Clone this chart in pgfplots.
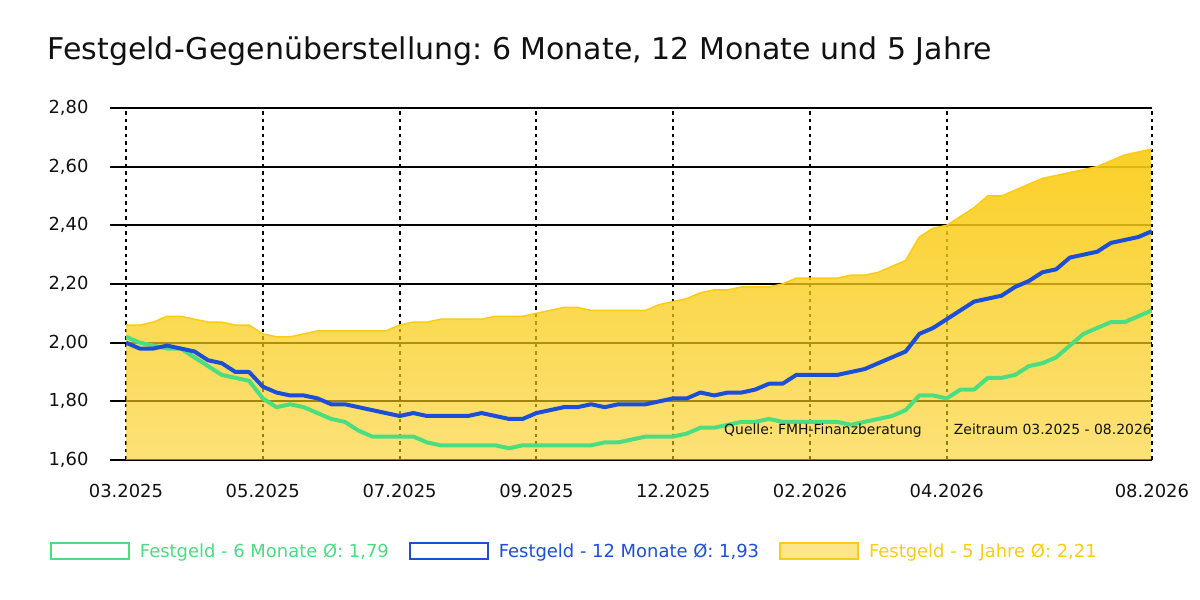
\documentclass[border=0pt]{standalone}
\usepackage{fontspec}
\setmainfont{DejaVu Sans}
\usepackage{pgfplots}
\pgfplotsset{compat=1.18}
\usepackage{pgfplotstable}
\usetikzlibrary{fadings}
\frenchspacing
\definecolor{cg}{HTML}{4ADE80}
\definecolor{cb}{HTML}{1D4ED8}
\definecolor{cy}{HTML}{FACC15}
\definecolor{cyl}{HTML}{FDE68A}
\definecolor{txt}{HTML}{111111}
\tikzfading[name=areafade, top color=transparent!8, bottom color=transparent!42]

\pgfplotstableread{
x m6 m12 y5
0 2.02 2.00 2.06
1 2.00 1.98 2.06
2 1.99 1.98 2.07
3 1.98 1.99 2.09
4 1.98 1.98 2.09
5 1.95 1.97 2.08
6 1.92 1.94 2.07
7 1.89 1.93 2.07
8 1.88 1.90 2.06
9 1.87 1.90 2.06
10 1.81 1.85 2.03
11 1.78 1.83 2.02
12 1.79 1.82 2.02
13 1.78 1.82 2.03
14 1.76 1.81 2.04
15 1.74 1.79 2.04
16 1.73 1.79 2.04
17 1.70 1.78 2.04
18 1.68 1.77 2.04
19 1.68 1.76 2.04
20 1.68 1.75 2.06
21 1.68 1.76 2.07
22 1.66 1.75 2.07
23 1.65 1.75 2.08
24 1.65 1.75 2.08
25 1.65 1.75 2.08
26 1.65 1.76 2.08
27 1.65 1.75 2.09
28 1.64 1.74 2.09
29 1.65 1.74 2.09
30 1.65 1.76 2.10
31 1.65 1.77 2.11
32 1.65 1.78 2.12
33 1.65 1.78 2.12
34 1.65 1.79 2.11
35 1.66 1.78 2.11
36 1.66 1.79 2.11
37 1.67 1.79 2.11
38 1.68 1.79 2.11
39 1.68 1.80 2.13
40 1.68 1.81 2.14
41 1.69 1.81 2.15
42 1.71 1.83 2.17
43 1.71 1.82 2.18
44 1.72 1.83 2.18
45 1.73 1.83 2.19
46 1.73 1.84 2.19
47 1.74 1.86 2.19
48 1.73 1.86 2.20
49 1.73 1.89 2.22
50 1.73 1.89 2.22
51 1.73 1.89 2.22
52 1.73 1.89 2.22
53 1.72 1.90 2.23
54 1.73 1.91 2.23
55 1.74 1.93 2.24
56 1.75 1.95 2.26
57 1.77 1.97 2.28
58 1.82 2.03 2.36
59 1.82 2.05 2.39
60 1.81 2.08 2.40
61 1.84 2.11 2.43
62 1.84 2.14 2.46
63 1.88 2.15 2.50
64 1.88 2.16 2.50
65 1.89 2.19 2.52
66 1.92 2.21 2.54
67 1.93 2.24 2.56
68 1.95 2.25 2.57
69 1.99 2.29 2.58
70 2.03 2.30 2.59
71 2.05 2.31 2.60
72 2.07 2.34 2.62
73 2.07 2.35 2.64
74 2.09 2.36 2.65
75 2.11 2.38 2.66
}\festgeld

\begin{document}
\begin{tikzpicture}[x=1bp,y=1bp]
\path[use as bounding box] (0,0) rectangle (1200,600);
\node[anchor=base west, inner sep=0pt, text=txt, font=\fontsize{30.1}{36}\selectfont] at (47.5,540) {Festgeld-Gegenüberstellung: 6 Monate, 12 Monate und 5 Jahre};
\begin{axis}[
  at={(126bp,140bp)}, anchor=south west,
  scale only axis, width=1026bp, height=352bp,
  xmin=0, xmax=75, ymin=1.6, ymax=2.8,
  axis line style={draw=none},
  xtick={0,10,20,30,40,50,60,75},
  xticklabels={03.2025,05.2025,07.2025,09.2025,12.2025,02.2026,04.2026,08.2026},
  ytick={1.6,1.8,2.0,2.2,2.4,2.6,2.8},
  yticklabel style={/pgf/number format/.cd, fixed, fixed zerofill, precision=2, use comma, /tikz/.cd, xshift=-18bp},
  xticklabel style={yshift=-5bp},
  /pgf/number format/assume math mode=true,
  tick label style={font=\fontsize{18}{22}\selectfont, text=txt},
  xmajorgrids, ymajorgrids,
  x grid style={black, line width=2bp, dash pattern=on 3.5bp off 4bp},
  y grid style={black, line width=1.9bp},
  xtick style={draw=none},
  ytick style={black, line width=2bp},
  tick align=outside,
  major tick length=16bp,
  ytick pos=left, xtick pos=bottom,
  legend style={draw=none, fill=none, at={(rel axis cs:0,0)}, xshift=-76bp, yshift=-91bp, anchor=west,
    font=\fontsize{18}{22}\selectfont, inner sep=0pt, outer sep=0pt,
    /tikz/every odd column/.append style={column sep=8bp},
    /tikz/every even column/.append style={column sep=18bp}},
  legend columns=3,
]
\addlegendimage{legend image code/.code={\draw[line width=2bp, draw=cg, fill=white] (1bp,-8bp) rectangle (79bp,8bp);}}
\addlegendentry[text=cg]{Festgeld - 6 Monate Ø: 1,79}
\addlegendimage{legend image code/.code={\draw[line width=2bp, draw=cb, fill=white] (1bp,-8bp) rectangle (79bp,8bp);}}
\addlegendentry[text=cb]{Festgeld - 12 Monate Ø: 1,93}
\addlegendimage{legend image code/.code={\draw[line width=2bp, draw=cy, fill=cyl] (1bp,-8bp) rectangle (79bp,8bp);}}
\addlegendentry[text=cy]{Festgeld - 5 Jahre Ø: 2,21}

\addplot[draw=none, fill=cy, path fading=areafade, forget plot] table[x=x, y=y5] {\festgeld} \closedcycle;
\addplot[cy, line width=1.5bp, forget plot] table[x=x, y=y5] {\festgeld};
\addplot[cg, line width=4bp, line join=round, forget plot] table[x=x, y=m6] {\festgeld};
\addplot[cb, line width=4bp, line join=round, forget plot] table[x=x, y=m12] {\festgeld};
\end{axis}
\node[anchor=base east, inner sep=0pt, text=txt, font=\fontsize{14}{17}\selectfont] at (922,165) {Quelle: FMH-Finanzberatung};
\node[anchor=base east, inner sep=0pt, text=txt, font=\fontsize{14}{17}\selectfont] at (1152,165) {Zeitraum 03.2025 - 08.2026};
\end{tikzpicture}
\end{document}
